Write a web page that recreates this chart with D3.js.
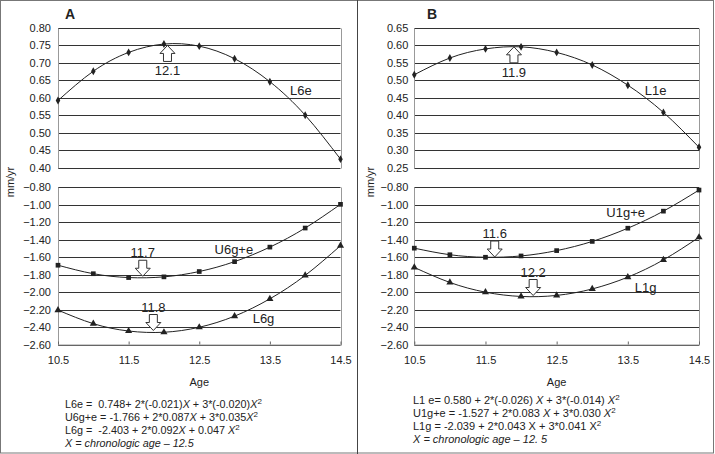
<!DOCTYPE html>
<html><head><meta charset="utf-8">
<script src="https://cdn.jsdelivr.net/npm/d3@7/dist/d3.min.js"></script>
<style>
html,body{margin:0;padding:0;background:#fff;}
svg text{font-family:"Liberation Sans",Arial,sans-serif;fill:#222;}
</style></head>
<body><svg id="c" width="715" height="454"></svg>
<script>
// ---- data ----
const ages = [10.5, 11, 11.5, 12, 12.5, 13, 13.5, 14, 14.5];
const xTickLabels = [10.5, 11.5, 12.5, 13.5, 14.5];

// Panel A
const L6e   = [0.592, 0.676, 0.730, 0.754, 0.748, 0.712, 0.646, 0.550, 0.424];
const U6ge  = [-1.694, -1.791, -1.835, -1.827, -1.766, -1.653, -1.487, -1.269, -0.998];
const L6g   = [-2.207, -2.362, -2.446, -2.460, -2.403, -2.276, -2.078, -1.810, -1.471];
const yTicksATop = [0.40, 0.45, 0.50, 0.55, 0.60, 0.65, 0.70, 0.75, 0.80];

// Panel B
const L1e   = [0.516, 0.564, 0.590, 0.596, 0.580, 0.544, 0.486, 0.408, 0.308];
const U1ge  = [-1.499, -1.574, -1.603, -1.588, -1.527, -1.422, -1.271, -1.076, -0.835];
const L1g   = [-1.719, -1.891, -2.002, -2.051, -2.039, -1.965, -1.830, -1.633, -1.375];
const yTicksBTop = [0.25, 0.30, 0.35, 0.40, 0.45, 0.50, 0.55, 0.60, 0.65];

const yTicksBottom = [-2.60, -2.40, -2.20, -2.00, -1.80, -1.60, -1.40, -1.20, -1.00, -0.80];

// peak / trough annotations: [age, value at arrow tip, label]
const peaksA = [{age: 12.05, val: 0.750, label: "12.1", dir: "up", plot: "top"},
                {age: 11.7, val: -1.82, label: "11.7", dir: "down", plot: "bot"},
                {age: 11.85, val: -2.44, label: "11.8", dir: "down", plot: "bot"}];
const peaksB = [{age: 11.9, val: 0.596, label: "11.9", dir: "up", plot: "top"},
                {age: 11.63, val: -1.60, label: "11.6", dir: "down", plot: "bot"},
                {age: 12.17, val: -2.04, label: "12.2", dir: "down", plot: "bot"}];

// series name labels: [age, value]
const namesA = [{t: "L6e", age: 13.94, val: 0.622, plot: "top"},
                {t: "U6g+e", age: 12.99, val: -1.511, plot: "bot"},
                {t: "L6g", age: 13.41, val: -2.302, plot: "bot"}];
const namesB = [{t: "L1e", age: 13.89, val: 0.472, plot: "top"},
                {t: "U1g+e", age: 13.47, val: -1.095, plot: "bot"},
                {t: "L1g", age: 13.75, val: -1.943, plot: "bot"}];

// equations: segments [text, style]  (style: "" normal, "i" italic, "s" superscript)
const eqA = [
  [["L6e =  0.748+ 2*(-0.021)",""],["X","i"],[" + 3*(-0.020)",""],["X","i"],["2","s"]],
  [["U6g+e = -1.766 + 2*0.087",""],["X","i"],[" + 3*0.035",""],["X","i"],["2","s"]],
  [["L6g =  -2.403 + 2*0.092",""],["X","i"],[" + 0.047 ",""],["X","i"],["2","s"]],
  [["X = chronologic age \u2013 12.5","i"]]
];
const eqB = [
  [["L1 e= 0.580 + 2*(-0.026) ",""],["X","i"],[" + 3*(-0.014) ",""],["X","i"],["2","s"]],
  [["U1g+e = -1.527 + 2*0.083 ",""],["X","i"],[" + 3*0.030 ",""],["X","i"],["2","s"]],
  [["L1g = -2.039 + 2*0.043 X + 3*0.041 X",""],["2","s"]],
  [["X = chronologic age \u2013 12. 5","i"]]
];

// ---- drawing ----
const svg = d3.select("#c");
const ink = "#222";

// outer frame
svg.append("rect").attr("x",0.5).attr("y",0.5).attr("width",713).attr("height",452.5)
   .attr("fill","none").attr("stroke","#777").attr("stroke-width",1);
svg.append("line").attr("x1",357.5).attr("x2",357.5).attr("y1",0).attr("y2",454)
   .attr("stroke","#444").attr("stroke-width",1);

function arrowPath(x, tipY, dir){
  const hw = 7.5, sw = 4, hh = 8, L = 16;
  const s = dir === "up" ? 1 : -1;
  const pts = [[x, tipY],[x+hw, tipY+s*hh],[x+sw, tipY+s*hh],[x+sw, tipY+s*L],
               [x-sw, tipY+s*L],[x-sw, tipY+s*hh],[x-hw, tipY+s*hh]];
  return d3.line()(pts) + "Z";
}

function panel(cfg){
  const g = svg.append("g");
  const x = d3.scaleLinear([10.5, 14.5], [cfg.x0, cfg.x1]);
  const yT = d3.scaleLinear([cfg.topTicks[0], cfg.topTicks[cfg.topTicks.length-1]], [167.5, 28]);
  const yB = d3.scaleLinear([-2.60, -0.80], [344.5, 187]);
  const yOf = p => p === "top" ? yT : yB;

  // gridlines
  [[yT, cfg.topTicks],[yB, yTicksBottom]].forEach(([y, ticks]) => {
    g.selectAll(null).data(ticks).enter().append("line")
      .attr("x1", cfg.x0).attr("x2", cfg.x1)
      .attr("y1", d => Math.round(y(d))+0.5).attr("y2", d => Math.round(y(d))+0.5)
      .attr("stroke", "#333").attr("stroke-width", 1);
    const r = y.range();
    [cfg.x0, cfg.x1].forEach(xx => g.append("line")
      .attr("x1", Math.round(xx)+0.5).attr("x2", Math.round(xx)+0.5)
      .attr("y1", Math.round(r[1])+0.5).attr("y2", Math.round(r[0])+0.5)
      .attr("stroke", "#999").attr("stroke-width", 1));
  });

  // y axes (labels)
  const axT = g.append("g").attr("transform", `translate(${cfg.x0},0)`)
    .call(d3.axisLeft(yT).tickValues(cfg.topTicks).tickFormat(d3.format(".2f")).tickSize(0).tickPadding(cfg.pad));
  const axB = g.append("g").attr("transform", `translate(${cfg.x0},0)`)
    .call(d3.axisLeft(yB).tickValues(yTicksBottom).tickFormat(d3.format(".2f")).tickSize(0).tickPadding(cfg.pad));
  [axT, axB].forEach(a => {
    a.select(".domain").remove();
    a.selectAll("text").attr("font-size", 11).attr("fill", ink)
      .attr("font-family", '"Liberation Sans",Arial,sans-serif');
  });

  // x axis
  const axX = g.append("g").attr("transform", `translate(0,344.5)`)
    .call(d3.axisBottom(x).tickValues(xTickLabels).tickFormat(d3.format(".1f")).tickSizeInner(-3).tickSizeOuter(0).tickPadding(12));
  axX.select(".domain").attr("stroke", "#999");
  axX.selectAll("line").attr("stroke", "#666");
  axX.selectAll("text").attr("font-size", 11).attr("fill", ink)
    .attr("font-family", '"Liberation Sans",Arial,sans-serif');

  // series
  cfg.series.forEach(s => {
    const y = yOf(s.plot);
    const pts = ages.map((a, i) => [x(a), y(s.vals[i])]);
    g.append("path").attr("d", d3.line().curve(d3.curveNatural)(pts))
      .attr("fill", "none").attr("stroke", ink).attr("stroke-width", 1);
    g.selectAll(null).data(pts).enter().append("path")
      .attr("transform", d => `translate(${d[0]},${d[1]})`)
      .attr("d", d3.symbol().type(s.sym).size(s.size))
      .attr("fill", ink);
  });

  // arrows + labels
  cfg.peaks.forEach(p => {
    const y = yOf(p.plot);
    const ax = x(p.age), tip = y(p.val);
    g.append("path").attr("d", arrowPath(ax, tip, p.dir))
      .attr("fill", "#fff").attr("stroke", "#333").attr("stroke-width", 1);
    const ly = p.dir === "up" ? tip + 16 + 14 : tip - 16 - 3;
    g.append("text").attr("x", ax).attr("y", ly).attr("text-anchor", "middle")
      .attr("font-size", 13).text(p.label);
  });

  cfg.names.forEach(n => {
    g.append("text").attr("x", x(n.age)).attr("y", yOf(n.plot)(n.val))
      .attr("text-anchor", "middle").attr("dominant-baseline", "central")
      .attr("font-size", 13).text(n.t);
  });

  // panel letter
  g.append("text").attr("x", cfg.letterX).attr("y", 19).attr("font-size", 14)
    .attr("font-weight", "bold").text(cfg.letter);

  // axis titles
  g.append("text").attr("transform", `translate(${cfg.yTitleX},182) rotate(-90)`)
    .attr("text-anchor", "middle").attr("dominant-baseline", "central")
    .attr("font-size", 11).text("mm/yr");
  g.append("text").attr("x", (cfg.x0 + cfg.x1) / 2).attr("y", 386)
    .attr("text-anchor", "middle").attr("font-size", 11).text("Age");

  // equations
  cfg.eqs.forEach((line, i) => {
    const t = g.append("text").attr("x", cfg.eqX).attr("y", cfg.eqY0 + i * cfg.eqDy)
      .attr("font-size", cfg.eqSize).style("white-space", "pre");
    line.forEach(([txt, st]) => {
      const ts = t.append("tspan").text(txt);
      if (st === "i") ts.attr("font-style", "italic");
      if (st === "s") ts.attr("font-size", 8).attr("dy", -4);
    });
  });
}

panel({x0: 58, x1: 340.5, topTicks: yTicksATop, pad: 7, letter: "A", letterX: 65, yTitleX: 10,
  series: [{vals: L6e, plot: "top", sym: d3.symbolDiamond, size: 18},
           {vals: U6ge, plot: "bot", sym: d3.symbolSquare, size: 22},
           {vals: L6g, plot: "bot", sym: d3.symbolTriangle, size: 22}],
  peaks: peaksA, names: namesA, eqs: eqA, eqX: 65, eqY0: 408, eqDy: 12.9, eqSize: 10.8});

panel({x0: 414.3, x1: 699, topTicks: yTicksBTop, pad: 6, letter: "B", letterX: 427, yTitleX: 370,
  series: [{vals: L1e, plot: "top", sym: d3.symbolDiamond, size: 18},
           {vals: U1ge, plot: "bot", sym: d3.symbolSquare, size: 22},
           {vals: L1g, plot: "bot", sym: d3.symbolTriangle, size: 22}],
  peaks: peaksB, names: namesB, eqs: eqB, eqX: 413, eqY0: 403.5, eqDy: 13.3, eqSize: 11});
</script></body></html>
